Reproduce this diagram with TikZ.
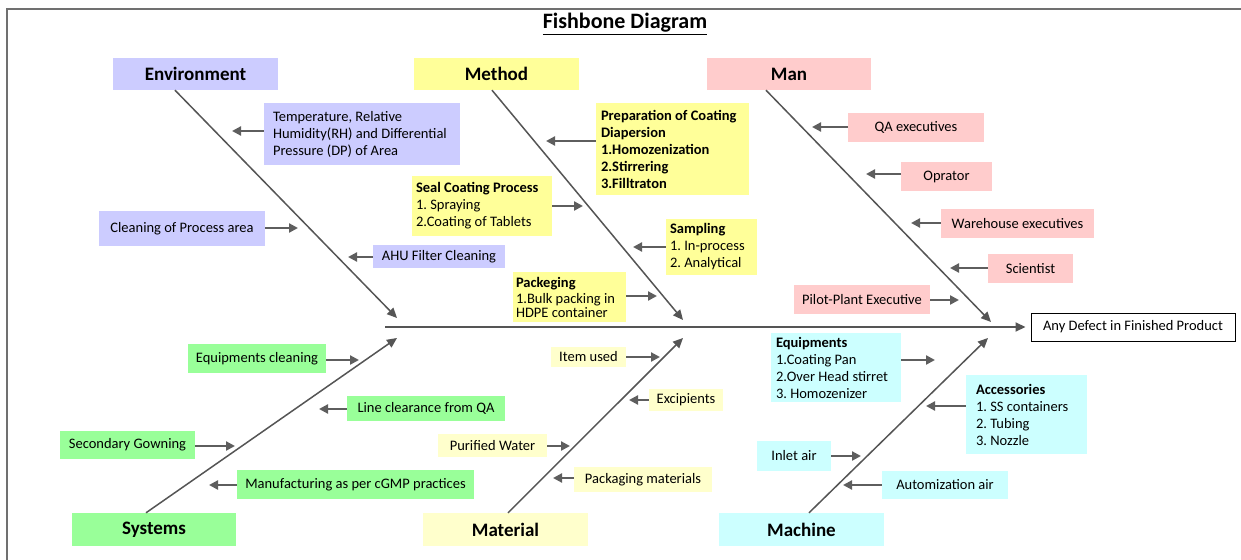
\documentclass[tikz,border=0pt]{standalone}
\usepackage{fontspec}
\setmainfont{Carlito}
\usetikzlibrary{arrows.meta}
\definecolor{envc}{HTML}{CCCCFF}
\definecolor{methc}{HTML}{FFFF99}
\definecolor{manc}{HTML}{FFCCCC}
\definecolor{sysc}{HTML}{99FF99}
\definecolor{matc}{HTML}{FFFFCC}
\definecolor{machc}{HTML}{CCFFFF}
\definecolor{arrc}{HTML}{5E5E5E}
\definecolor{bonec}{HTML}{555555}
\definecolor{framec}{HTML}{707070}
\tikzset{
  small/.style={font=\frenchspacing\fontsize{14.5}{17}\selectfont},
  causebox/.style={small, inner ysep=0pt, align=center, text=black},
  multibox/.style={small, inner ysep=0pt, align=flush left, text=black},
  header/.style={font=\bfseries\fontsize{19}{22}\selectfont, inner sep=0pt, text=black},
  cause/.style={draw=arrc, line width=2.2pt, -{Triangle[length=9pt,width=9pt]}},
  bone/.style={draw=bonec, line width=1.5pt, -{Triangle[length=10pt,width=9pt]}},
}
\begin{document}
\frenchspacing
\begin{tikzpicture}[x=1pt,y=-1pt]
\useasboundingbox (0,0) rectangle (1241,559);
\clip (0,0) rectangle (1241,559);
\draw[framec, line width=2pt] (7,9) rectangle (1270,590);
% title
\node[font=\bfseries\fontsize{22}{26}\selectfont, inner sep=0pt] (title) at (625,24) {\underline{Fishbone Diagram}};
% headers
\node[header, fill=envc, minimum width=165pt, minimum height=32pt] (env) at (195.5,74) {Environment};
\node[header, fill=methc, minimum width=165pt, minimum height=32pt] (meth) at (496.5,74) {Method};
\node[header, fill=manc, minimum width=164pt, minimum height=32pt] (man) at (789,74) {Man};
\node[header, fill=sysc, minimum width=164pt, minimum height=33pt] (sys) at (154,529.5) {Systems};
\node[header, fill=matc, minimum width=165pt, minimum height=33pt] (mat) at (505.5,529.5) {Material};
\node[header, fill=machc, minimum width=165pt, minimum height=33pt] (mach) at (801.5,529.5) {Machine};
% effect
\node[draw=black, line width=1pt, fill=white, small, minimum width=204pt, minimum height=28pt, inner sep=0pt] (eff) at (1133,327) {Any Defect in Finished Product};
% bone tips
\coordinate (tE) at (397,318);
\coordinate (tM) at (683,320);
\coordinate (tN) at (991,322);
\coordinate (tS) at (397,338);
\coordinate (tT) at (683,338);
\coordinate (tC) at (988,338);
\coordinate (sp) at (385,327);
% spine and bones
\draw[draw=bonec, line width=2pt, -{Triangle[length=10pt,width=9pt]}] (sp) -- ([xshift=-5pt]eff.west);
\draw[bone] ([xshift=-20.5pt]env.south) -- (tE);
\draw[bone] ([xshift=-4.5pt]meth.south) -- (tM);
\draw[bone] ([xshift=-23pt]man.south) -- (tN);
\draw[bone] ([xshift=-8pt]sys.north) -- (tS);
\draw[bone] ([xshift=2.5pt]mat.north) -- (tT);
\draw[bone] ([xshift=7.5pt]mach.north) -- (tC);
% ---------- Environment causes
\node[multibox, fill=envc, text width=178pt, inner xsep=9pt, minimum height=62pt] (e1) at (362,134) {Temperature, Relative\\Humidity(RH) and Differential\\Pressure (DP) of Area};
\node[causebox, fill=envc, minimum width=166pt, minimum height=35pt] (e2) at (182,228.5) {Cleaning of Process area};
\node[causebox, fill=envc, minimum width=132pt, minimum height=23pt] (e3) at (439,256.5) {AHU Filter Cleaning};
\coordinate (a1) at (232,131);
\coordinate (a2) at (298,228);
\coordinate (a3) at (348,257);
\draw[cause] (e1.west |- a1) -- (a1);
\draw[cause] (e2.east |- a2) -- (a2);
\draw[cause] (e3.west |- a3) -- (a3);
% ---------- Method causes
\node[multibox, font=\bfseries\frenchspacing\fontsize{14.5}{17}\selectfont, fill=methc, text width=143pt, inner xsep=5pt, minimum height=92pt] (m1) at (672.5,149) {Preparation of Coating\\Diapersion\\1.Homozenization\\2.Stirrering\\3.Filltraton};
\node[multibox, fill=methc, text width=132pt, inner xsep=4pt, minimum height=60pt] (m2) at (482,206) {\textbf{Seal Coating Process}\\1. Spraying\\2.Coating of Tablets};
\node[multibox, fill=methc, text width=83pt, inner xsep=4pt, minimum height=56pt] (m3) at (711.5,247) {\textbf{Sampling}\\1. In-process\\2. Analytical};
\node[multibox, fill=methc, text width=107pt, inner xsep=3pt, minimum height=50pt] (m4) at (569.5,297) {\textbf{Packeging}\\[-1pt]1.Bulk packing in\\[-3pt]HDPE container};
\coordinate (b1) at (546,141);
\coordinate (b2) at (583,206);
\coordinate (b3) at (633,247);
\coordinate (b4) at (657,296);
\draw[cause] (m1.west |- b1) -- (b1);
\draw[cause] (m2.east |- b2) -- (b2);
\draw[cause] (m3.west |- b3) -- (b3);
\draw[cause] (m4.east |- b4) -- (b4);
% ---------- Man causes
\node[causebox, fill=manc, minimum width=136pt, minimum height=29pt] (n1) at (916,127.5) {QA executives};
\node[causebox, fill=manc, minimum width=91pt, minimum height=29pt] (n2) at (946.5,176.5) {Oprator};
\node[causebox, fill=manc, minimum width=153pt, minimum height=29pt] (n3) at (1017.5,223.5) {Warehouse executives};
\node[causebox, fill=manc, minimum width=85pt, minimum height=29pt] (n4) at (1030.5,268.5) {Scientist};
\node[causebox, fill=manc, minimum width=136pt, minimum height=29pt] (n5) at (862,299.5) {Pilot-Plant Executive};
\coordinate (c1) at (812,127);
\coordinate (c2) at (866,174);
\coordinate (c3) at (911,223);
\coordinate (c4) at (950,268);
\coordinate (c5) at (959,300);
\draw[cause] (n1.west |- c1) -- (c1);
\draw[cause] (n2.west |- c2) -- (c2);
\draw[cause] (n3.west |- c3) -- (c3);
\draw[cause] (n4.west |- c4) -- (c4);
\draw[cause] (n5.east |- c5) -- (c5);
% ---------- Systems causes
\node[causebox, fill=sysc, minimum width=138pt, minimum height=29pt] (s1) at (257,358.5) {Equipments cleaning};
\node[causebox, fill=sysc, minimum width=158pt, minimum height=25pt] (s2) at (426,408.5) {Line clearance from QA};
\node[causebox, fill=sysc, minimum width=135pt, minimum height=28pt] (s3) at (127.5,445) {Secondary Gowning};
\node[causebox, fill=sysc, minimum width=237pt, minimum height=29pt] (s4) at (355.5,484.5) {Manufacturing as per cGMP practices};
\coordinate (d1) at (359,360);
\coordinate (d2) at (319,409);
\coordinate (d3) at (235,446);
\coordinate (d4) at (209,485);
\draw[cause] (s1.east |- d1) -- (d1);
\draw[cause] (s2.west |- d2) -- (d2);
\draw[cause] (s3.east |- d3) -- (d3);
\draw[cause] (s4.west |- d4) -- (d4);
% ---------- Material causes
\node[causebox, fill=matc, minimum width=75pt, minimum height=20pt] (t1) at (588.5,357) {Item used};
\node[causebox, fill=matc, minimum width=74pt, minimum height=22pt] (t2) at (686,400) {Excipients};
\node[causebox, fill=matc, minimum width=109pt, minimum height=23pt] (t3) at (492.5,445.5) {Purified Water};
\node[causebox, fill=matc, minimum width=138pt, minimum height=25pt] (t4) at (643,479.5) {Packaging materials};
\coordinate (f1) at (660,357);
\coordinate (f2) at (629,400);
\coordinate (f3) at (570,446);
\coordinate (f4) at (553,478);
\draw[cause] (t1.east |- f1) -- (f1);
\draw[cause] (t2.west |- f2) -- (f2);
\draw[cause] (t3.east |- f3) -- (f3);
\draw[cause] (t4.west |- f4) -- (f4);
% ---------- Machine causes
\node[multibox, fill=machc, text width=120pt, inner xsep=5pt, minimum height=69pt] (k1) at (836,367.5) {\textbf{Equipments}\\1.Coating Pan\\2.Over Head stirret\\3. Homozenizer};
\node[multibox, fill=machc, text width=101pt, inner xsep=10pt, minimum height=79pt] (k2) at (1026.5,414.5) {\textbf{Accessories}\\1. SS containers\\2. Tubing\\3. Nozzle};
\node[causebox, fill=machc, minimum width=74pt, minimum height=30pt] (k3) at (794,456) {Inlet air};
\node[causebox, fill=machc, minimum width=126pt, minimum height=28pt] (k4) at (945,485) {Automization air};
\coordinate (g1) at (935,360);
\coordinate (g2) at (926,406);
\coordinate (g3) at (861,456);
\coordinate (g4) at (843,485);
\draw[cause] (k1.east |- g1) -- (g1);
\draw[cause] (k2.west |- g2) -- (g2);
\draw[cause] (k3.east |- g3) -- (g3);
\draw[cause] (k4.west |- g4) -- (g4);
\end{tikzpicture}
\end{document}
